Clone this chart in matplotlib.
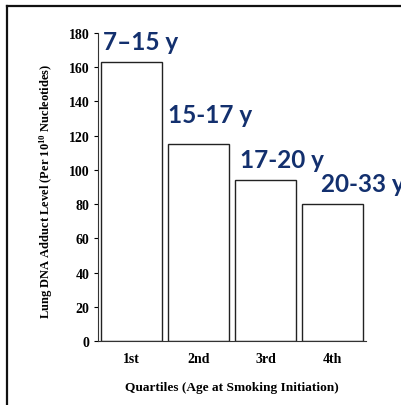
import numpy as np
import matplotlib.pyplot as plt
from matplotlib.lines import Line2D

plt.rcParams['mathtext.default'] = 'regular'

# data
quartiles = ['1st', '2nd', '3rd', '4th']
adduct_level = [163, 115, 94, 80]
age_ranges = ['7\u201315 y', '15-17 y', '17-20 y', '20-33 y']

# label placement (offset from bar left edge / bar top)
lbl_dx = [0.03, 0.0, 0.075, 0.28]
lbl_dy = [7.5, 13, 7.5, 7.5]

NAVY = '#13306e'
serif = 'Liberation Serif'

fig = plt.figure(figsize=(4.01, 4.06), dpi=100)
ax = fig.add_axes([98/401, 64/406, 268/401, 308/406])

x = np.arange(len(quartiles))
w = 0.91
ax.bar(x, adduct_level, width=w, color='white', edgecolor='#222222', linewidth=1.0)

for i, lab in enumerate(age_ranges):
    ax.text(x[i] - w/2 + lbl_dx[i], adduct_level[i] + lbl_dy[i], lab,
            ha='left', va='baseline', color=NAVY, fontsize=17.5,
            fontweight='bold', family='Lato', clip_on=False)

ax.set_xlim(-0.5, 3.5)
ax.set_ylim(0, 180)
ax.set_yticks(range(0, 181, 20))
ax.set_xticks(x)
ax.set_xticklabels(quartiles)
for t in ax.get_xticklabels() + ax.get_yticklabels():
    t.set_family(serif)
    t.set_fontweight('bold')
    t.set_fontsize(10)
ax.tick_params(axis='x', length=0, pad=8)
ax.tick_params(axis='y', length=3, width=0.8, pad=3)

ax.spines['top'].set_visible(False)
ax.spines['right'].set_visible(False)
ax.spines['left'].set_color('#333333')
ax.spines['bottom'].set_color('#333333')

ax.set_xlabel('Quartiles (Age at Smoking Initiation)', family=serif,
              fontweight='bold', fontsize=9.6)
ax.xaxis.set_label_coords(0.5, -0.13)
ax.set_ylabel('Lung DNA Adduct Level (Per 10$^{10}$ Nucleotides)', family=serif,
              fontweight='bold', fontsize=9)
ax.yaxis.set_label_coords(-0.16, 0.49)

# outer frame (top and left only)
fig.add_artist(Line2D([7/401, 7/401], [0, 1 - 7/406], transform=fig.transFigure,
                      color='#111111', linewidth=1.6))
fig.add_artist(Line2D([7/401, 1], [1 - 7/406, 1 - 7/406], transform=fig.transFigure,
                      color='#111111', linewidth=1.6))

fig.savefig('out.png', dpi=100)
